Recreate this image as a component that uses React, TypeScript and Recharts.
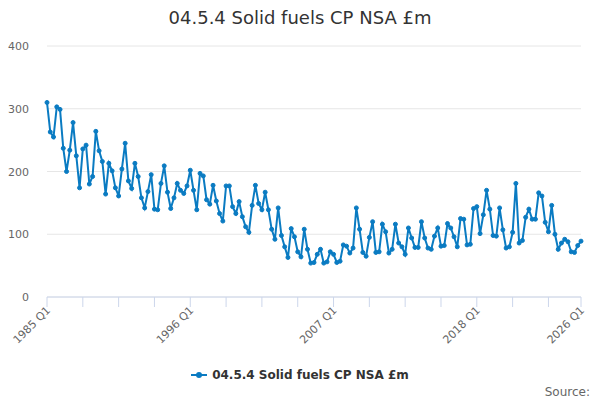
import React from "react";
import { LineChart, Line, XAxis, YAxis, CartesianGrid, Legend } from "recharts";

const seriesName = "04.5.4 Solid fuels CP NSA £m";
const startYear = 1985;
const endYear = 2026;

const quarters: string[] = [];
for (let y = startYear; y <= endYear; y++) {
  for (let q = 1; q <= 4; q++) {
    if (y === endYear && q > 1) break;
    quarters.push(`${y} Q${q}`);
  }
}

const values: number[] = [
  310, 263, 255, 303, 299, 237, 200, 234, 278, 225,
  174, 236, 242, 180, 192, 264, 233, 216, 164, 213,
  201, 174, 161, 204, 245, 185, 173, 213, 192, 158,
  142, 168, 195, 140, 139, 181, 209, 167, 141, 158,
  181, 170, 165, 177, 202, 170, 139, 197, 193, 155,
  148, 178, 153, 133, 121, 177, 177, 144, 133, 152,
  128, 112, 103, 146, 178, 149, 139, 167, 139, 108,
  92, 142, 98, 80, 63, 109, 96, 72, 64, 108,
  76, 54, 55, 68, 76, 54, 56, 72, 68, 55,
  57, 83, 81, 70, 78, 142, 108, 71, 65, 95,
  120, 71, 72, 116, 104, 70, 76, 116, 86, 80,
  68, 110, 94, 79, 79, 120, 94, 78, 76, 97,
  110, 81, 82, 117, 110, 96, 80, 125, 124, 83,
  84, 141, 144, 101, 131, 170, 140, 98, 97, 142,
  107, 78, 80, 103, 181, 86, 90, 127, 140, 124,
  124, 166, 161, 119, 104, 146, 100, 76, 86, 92,
  88, 72, 71, 82, 89,
];

const yTicks = [0, 100, 200, 300, 400];
const xTickLabels = [
  "1985 Q1", "1987 Q4", "1990 Q3", "1993 Q2", "1996 Q1", "1998 Q4", "2001 Q3",
  "2004 Q2", "2007 Q1", "2009 Q4", "2012 Q3", "2015 Q2", "2018 Q1", "2020 Q4",
  "2023 Q3", "2026 Q1",
];
const shownXLabels = ["1985 Q1", "1996 Q1", "2007 Q1", "2018 Q1", "2026 Q1"];

const data = quarters.map((q, i) => ({ q, v: values[i] }));

const FONT = '"DejaVu Sans", Verdana, sans-serif';
const LINE_COLOR = "#0a7bc2";

const XTick = (props: any) => {
  const { x, y, payload } = props;
  if (!shownXLabels.includes(payload.value)) return null;
  const ax = x + 4;
  const ay = y + 4;
  return (
    <text
      x={ax}
      y={ay}
      transform={`rotate(-45 ${ax} ${ay})`}
      textAnchor="end"
      fontSize={11}
      fill="#666666"
      fontFamily={FONT}
    >
      {payload.value}
    </text>
  );
};

const YTick = (props: any) => {
  const { y, payload } = props;
  return (
    <text x={29} y={y + 4} textAnchor="end" fontSize={11} fill="#666666" fontFamily={FONT}>
      {payload.value}
    </text>
  );
};

const LegendContent = () => (
  <div
    style={{
      display: "flex",
      justifyContent: "center",
      alignItems: "center",
      fontFamily: FONT,
      fontSize: 12,
      fontWeight: "bold",
      color: "#333333",
    }}
  >
    <svg width={16} height={12} style={{ marginRight: 5 }}>
      <line x1={0} y1={6} x2={16} y2={6} stroke={LINE_COLOR} strokeWidth={2} />
      <circle cx={8} cy={6} r={3} fill={LINE_COLOR} />
    </svg>
    <span>{seriesName}</span>
  </div>
);

export default function App() {
  return (
    <div style={{ position: "absolute", left: 0, top: 0, width: 600, height: 400, background: "#fff" }}>
      <div
        style={{
          position: "absolute",
          top: 6,
          left: 0,
          width: 600,
          textAlign: "center",
          fontFamily: FONT,
          fontSize: 18,
          color: "#333333",
          lineHeight: "24px",
        }}
      >
        {seriesName}
      </div>
      <LineChart
        width={600}
        height={400}
        data={data}
        margin={{ top: 46, right: 19, left: 0, bottom: 43 }}
      >
        <CartesianGrid horizontal vertical={false} stroke="#e6e6e6" />
        <XAxis
          dataKey="q"
          type="category"
          ticks={xTickLabels}
          interval={0}
          height={60}
          tickSize={10}
          tickMargin={0}
          tick={<XTick />}
          axisLine={{ stroke: "#ccd6eb" }}
          tickLine={{ stroke: "#ccd6eb" }}
        />
        <YAxis
          width={47}
          domain={[0, 400]}
          ticks={yTicks}
          axisLine={false}
          tickLine={false}
          tick={<YTick />}
        />
        <Legend
          layout="horizontal"
          verticalAlign="middle"
          align="center"
          wrapperStyle={{ top: 368, left: 0, width: 600 }}
          content={<LegendContent />}
        />
        <Line
          type="linear"
          dataKey="v"
          name={seriesName}
          stroke={LINE_COLOR}
          strokeWidth={2}
          dot={{ r: 2, fill: LINE_COLOR, stroke: LINE_COLOR, strokeWidth: 1 }}
          isAnimationActive={false}
        />
      </LineChart>
      <div
        style={{
          position: "absolute",
          top: 385,
          right: 10,
          fontFamily: FONT,
          fontSize: 12,
          color: "#666666",
        }}
      >
        Source:
      </div>
    </div>
  );
}
